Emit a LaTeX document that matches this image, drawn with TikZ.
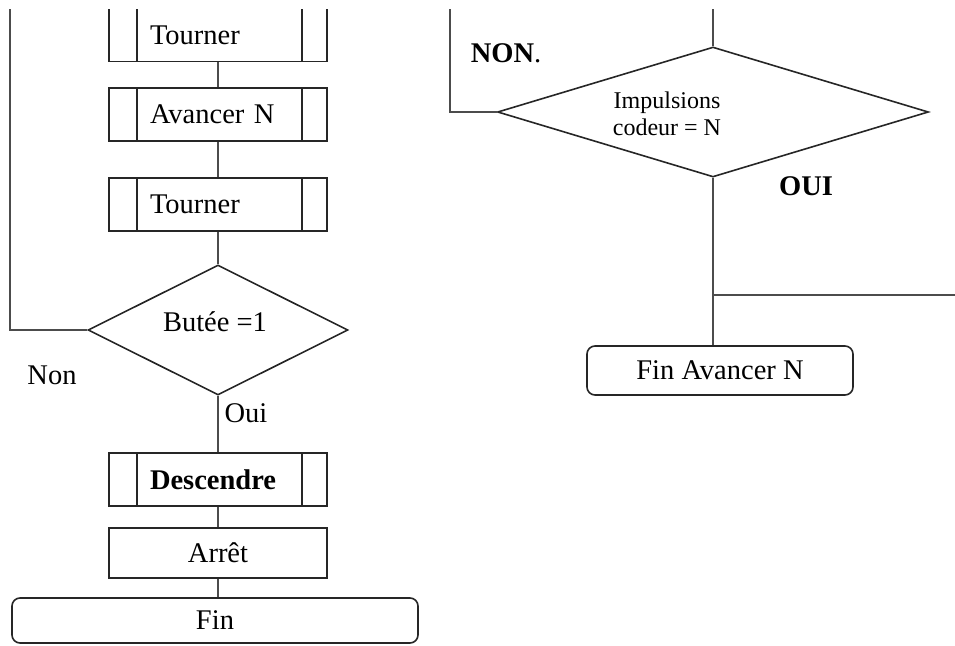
\documentclass[tikz,border=0pt]{standalone}
\usepackage{fontspec}
\setmainfont{Liberation Serif}
\usetikzlibrary{shapes.geometric}
\begin{document}
\begin{tikzpicture}[x=1pt,y=-1pt,
  every node/.style={font=\fontsize{28.5}{33}\selectfont, inner sep=0pt},
  procbox/.style={draw=black!85, line width=1.6pt, rectangle, minimum width=218pt, minimum height=53pt, fill=white},
  subproc/.style={procbox, text width=136pt, inner xsep=41pt, align=left, path picture={
     \draw[black!85, line width=1.6pt] ([xshift=28pt]path picture bounding box.north west) -- ([xshift=28pt]path picture bounding box.south west);
     \draw[black!85, line width=1.6pt] ([xshift=-25pt]path picture bounding box.north east) -- ([xshift=-25pt]path picture bounding box.south east);}},
  termbox/.style={draw=black!85, line width=1.6pt, rectangle, rounded corners=8pt},
  decision/.style={draw=black!85, line width=1.6pt, diamond, inner sep=0pt},
  link/.style={draw=black!70, line width=1.7pt},
  smalltext/.style={font=\fontsize{24}{27}\selectfont, align=center}
]
\useasboundingbox (0,0) rectangle (955,645);
\begin{scope}
\clip (0,9) rectangle (955,645);
% left column
\node[subproc] (t1) at (218,35) {Tourner};
\node[subproc] (av) at (218,114.5) {Avancer N};
\node[subproc] (t2) at (218,204.5) {Tourner};
\node[decision, minimum width=260pt, minimum height=130pt] (bu) at (218,330) {};
\node (but) at (215,322) {Butée =1};
\node (non) at (52,375) {Non};
\node (oui) at (246,413) {Oui};
\node[subproc] (de) at (218,479.5) {\textbf{Descendre}};
\node[procbox, minimum height=50pt] (ar) at (218,553) {Arrêt};
\node[termbox, minimum width=406pt, minimum height=45pt] (fin) at (215,620.5) {Fin};

\draw[link] (t1) -- (av);
\draw[link] (av) -- (t2);
\draw[link] (t2) -- (bu);
\draw[link] (bu) -- (de);
\draw[link] (de) -- (ar);
\draw[link] (ar.south) -- (ar.south |- fin.north);
\coordinate (lt) at (10,0);
\draw[link] (bu.west) -| (lt);

% right column
\node[decision, minimum width=431pt, minimum height=130pt] (im) at (713,112) {};
\node[smalltext] (imt) at (667,114) {Impulsions\\codeur = N};
\node (nonr) at (506,53) {\textbf{NON}.};
\node (ouir) at (806,186) {\textbf{OUI}};
\node[termbox, minimum width=266pt, minimum height=49pt] (fan) at (720,370.5) {Fin Avancer N};
\coordinate (rl) at (450,0);
\coordinate (rt) at (713,0);
\draw[link] (im.west) -| (rl);
\draw[link] (rt) -- (im.north);
\draw[link] (im.south) -- (im.south |- fan.north);
\coordinate (jn) at (713,295);
\coordinate (re) at (955,295);
\draw[link] (jn) -- (re);
\end{scope}
\end{tikzpicture}
\end{document}
